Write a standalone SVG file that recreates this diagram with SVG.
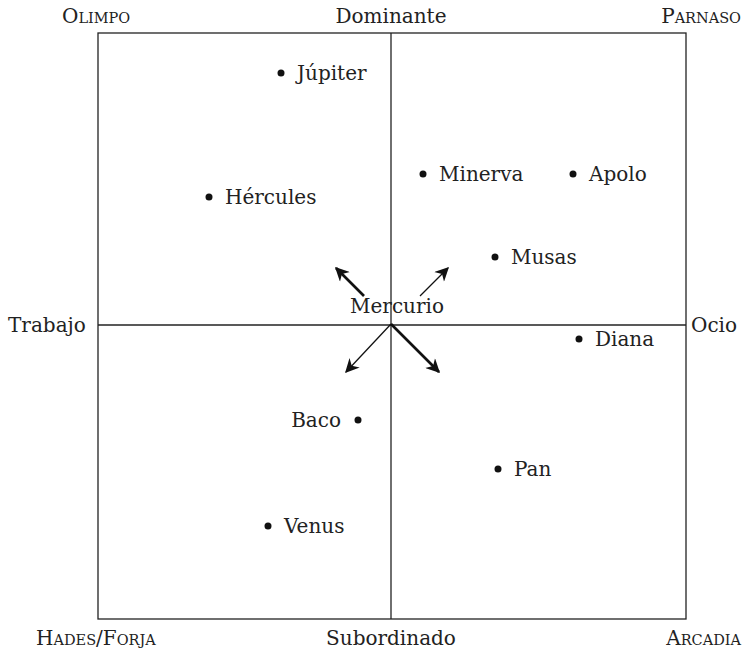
<svg xmlns="http://www.w3.org/2000/svg" width="753" height="657" viewBox="0 0 753 657">
<style>
text{font-family:"DejaVu Serif","Liberation Serif",serif;font-size:20px;fill:#222}
.sc{font-size:14.5px}
.axis{stroke:#222;stroke-width:1.3;fill:none}
.dot{fill:#111}
.thin{stroke:#111;stroke-width:1.3}
.thick{stroke:#111;stroke-width:2.6}
</style>
<defs>
<marker id="ah" viewBox="0 0 10 10" refX="9" refY="5" markerWidth="20" markerHeight="14" markerUnits="userSpaceOnUse" orient="auto">
<path d="M0,0 L10,5 L0,10 L3,5 Z" fill="#111"/>
</marker>
</defs>
<rect class="axis" x="98" y="33" width="588" height="586"/>
<line class="axis" x1="391" y1="33" x2="391" y2="619"/>
<line class="axis" x1="98" y1="325" x2="686" y2="325"/>
<text x="391" y="23" text-anchor="middle">Dominante</text>
<text x="391" y="645" text-anchor="middle">Subordinado</text>
<text x="8" y="332">Trabajo</text>
<text x="691" y="332">Ocio</text>
<text x="62" y="23">O<tspan class="sc">LIMPO</tspan></text>
<text x="741" y="23" text-anchor="end">P<tspan class="sc">ARNASO</tspan></text>
<text x="36" y="645">H<tspan class="sc">ADES</tspan>/F<tspan class="sc">ORJA</tspan></text>
<text x="741" y="645" text-anchor="end">A<tspan class="sc">RCADIA</tspan></text>
<g id="connectors">
<line class="thick" x1="364" y1="296" x2="336" y2="268" marker-end="url(#ah)"/>
<line class="thin" x1="420" y1="296" x2="448" y2="268" marker-end="url(#ah)"/>
<line class="thin" x1="391" y1="324" x2="346" y2="372" marker-end="url(#ah)"/>
<line class="thick" x1="391" y1="324" x2="439" y2="372" marker-end="url(#ah)"/>
</g>
<g id="mercurio"><text x="397" y="313" text-anchor="middle">Mercurio</text></g>
<g id="jupiter"><circle class="dot" cx="281" cy="73" r="3.5"/><text x="297" y="80">Júpiter</text></g>
<g id="hercules"><circle class="dot" cx="209" cy="197" r="3.5"/><text x="225" y="204">Hércules</text></g>
<g id="minerva"><circle class="dot" cx="423" cy="174" r="3.5"/><text x="439" y="181">Minerva</text></g>
<g id="apolo"><circle class="dot" cx="573" cy="174" r="3.5"/><text x="589" y="181">Apolo</text></g>
<g id="musas"><circle class="dot" cx="495" cy="257" r="3.5"/><text x="511" y="264">Musas</text></g>
<g id="diana"><circle class="dot" cx="579" cy="339" r="3.5"/><text x="595" y="346">Diana</text></g>
<g id="baco"><circle class="dot" cx="358" cy="420" r="3.5"/><text x="341" y="427" text-anchor="end">Baco</text></g>
<g id="pan"><circle class="dot" cx="498" cy="469" r="3.5"/><text x="514" y="476">Pan</text></g>
<g id="venus"><circle class="dot" cx="268" cy="526" r="3.5"/><text x="284" y="533">Venus</text></g>
</svg>
